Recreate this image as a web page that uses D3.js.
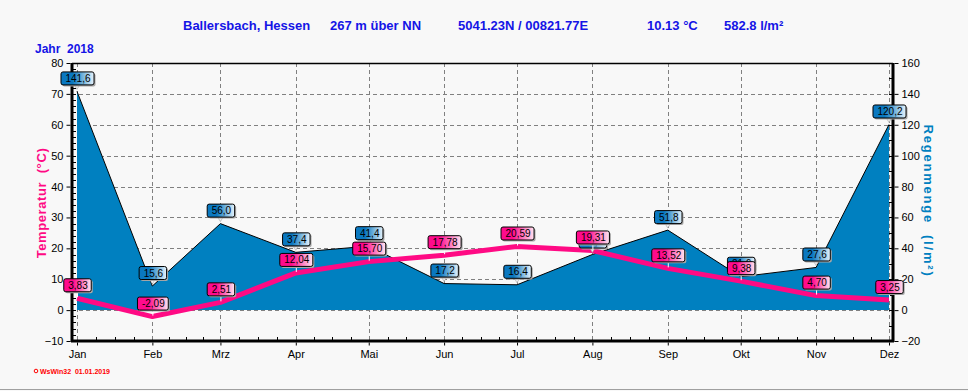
<!DOCTYPE html>
<html><head><meta charset="utf-8">
<script src="https://cdn.jsdelivr.net/npm/d3@7"></script>
<style>
html,body{margin:0;padding:0;background:#f8f8f8;}
svg{display:block;font-family:Arial,"Liberation Sans",sans-serif;}
</style></head>
<body>
<svg id="c" width="968" height="391"></svg>
<script>
const months = ["Jan","Feb","Mrz","Apr","Mai","Jun","Jul","Aug","Sep","Okt","Nov","Dez"];
const temperature = [3.83,-2.09,2.51,12.04,15.70,17.78,20.59,19.31,13.52,9.38,4.70,3.25];
const precipitation = [141.6,15.6,56.0,37.4,41.4,17.2,16.4,36.0,51.8,21.6,27.6,120.2];
const tempTicks = [-10,0,10,20,30,40,50,60,70,80];
const rainTicks = [-20,0,20,40,60,80,100,120,140,160];
const titleParts = ["Ballersbach, Hessen","267 m über NN","5041.23N / 00821.77E","10.13 °C","582.8 l/m²"];
const yearLabel = "Jahr  2018";
const footer = "WsWin32  01.01.2019";

const svg = d3.select("#c");
const L = 72, R = 893, T = 63, B = 341;
const dates = months.map((m,i)=>new Date(2018,i,1));
const x = d3.scaleTime().domain([dates[0], dates[11]]).range([77, 889]);
const yT = d3.scaleLinear().domain([-10,80]).range([B,T]);
const yP = d3.scaleLinear().domain([-20,160]).range([B,T]);

const defs = svg.append("defs");
function grad(id, c1, c2){
  const g = defs.append("linearGradient").attr("id",id).attr("x1","0").attr("x2","1").attr("y1","0").attr("y2","0");
  g.append("stop").attr("offset","0").attr("stop-color",c1);
  g.append("stop").attr("offset","0.35").attr("stop-color",c1);
  g.append("stop").attr("offset","1").attr("stop-color",c2);
}
grad("gb","#0a78c0","#e6f3fc");
grad("gp","#ff0a8c","#ffe6f2");

svg.append("line").attr("x1",0).attr("x2",968).attr("y1",389.5).attr("y2",389.5).attr("stroke","#a0a0a0").attr("stroke-width",1);

// title
const titleX = [183,330,458,647,724];
titleParts.forEach((t,i)=>{
  svg.append("text").attr("x",titleX[i]).attr("y",30).attr("fill","#1414e6")
    .attr("font-size","13px").attr("font-weight","bold").text(t);
});
svg.append("text").attr("x",35).attr("y",53).attr("fill","#1414e6").attr("font-size","12px")
  .attr("font-weight","bold").style("white-space","pre").text(yearLabel);

// gridlines
const grid = svg.append("g").attr("stroke","#808080").attr("stroke-width",1).attr("stroke-dasharray","4,3");
tempTicks.filter(v=>v>-10 && v<80).forEach(v=>{
  grid.append("line").attr("x1",L).attr("x2",R).attr("y1",Math.round(yT(v))+0.5).attr("y2",Math.round(yT(v))+0.5);
});
dates.forEach(d=>{
  grid.append("line").attr("x1",Math.round(x(d))+0.5).attr("x2",Math.round(x(d))+0.5).attr("y1",T).attr("y2",B);
});

// precipitation area
const area = d3.area().x((d,i)=>x(dates[i])).y0(yP(0)).y1(d=>yP(d));
svg.append("path").datum(precipitation).attr("d",area).attr("fill","#0080c0");
svg.append("path").datum(precipitation).attr("d",d3.line().x((d,i)=>x(dates[i])).y(d=>yP(d)))
  .attr("fill","none").attr("stroke","#000").attr("stroke-width",1);

// temperature line
svg.append("path").datum(temperature)
  .attr("d",d3.line().x((d,i)=>x(dates[i])).y(d=>yT(d)))
  .attr("fill","none").attr("stroke","#ff0a84").attr("stroke-width",5).attr("stroke-linejoin","round");

// frame / axes
svg.append("line").attr("x1",L).attr("x2",R).attr("y1",T+0.5).attr("y2",T+0.5).attr("stroke","#000").attr("stroke-width",1.5);
svg.append("line").attr("x1",L-1).attr("x2",R+1).attr("y1",B).attr("y2",B).attr("stroke","#000").attr("stroke-width",3);
svg.append("line").attr("x1",L).attr("x2",L).attr("y1",T).attr("y2",B+1).attr("stroke","#000").attr("stroke-width",3);
svg.append("line").attr("x1",R).attr("x2",R).attr("y1",T).attr("y2",B+1).attr("stroke","#000").attr("stroke-width",3);

// left axis
const axL = svg.append("g").attr("transform",`translate(${L-1.5},0)`)
  .call(d3.axisLeft(yT).tickValues(tempTicks).tickSize(4).tickPadding(3).tickFormat(d3.format("d")));
axL.select(".domain").remove();
axL.selectAll("text").attr("font-size","11px").attr("fill","#000").attr("font-family","Arial,'Liberation Sans',sans-serif");
d3.range(-10,80,2).forEach(v=>{
  svg.append("line").attr("x1",L).attr("x2",L+4).attr("y1",Math.round(yT(v))+0.5).attr("y2",Math.round(yT(v))+0.5).attr("stroke","#000");
});

// right axis
const axR = svg.append("g").attr("transform",`translate(${R+1.5},0)`)
  .call(d3.axisRight(yP).tickValues(rainTicks).tickSize(4).tickPadding(3).tickFormat(d3.format("d")));
axR.select(".domain").remove();
axR.selectAll("text").attr("font-size","11px").attr("fill","#000").attr("font-family","Arial,'Liberation Sans',sans-serif");
d3.range(-20,160,10).forEach(v=>{
  svg.append("line").attr("x1",R-4).attr("x2",R).attr("y1",Math.round(yP(v))+0.5).attr("y2",Math.round(yP(v))+0.5).attr("stroke","#000");
});

// bottom axis
const axB = svg.append("g").attr("transform",`translate(0,${B+1.5})`)
  .call(d3.axisBottom(x).tickValues(dates).tickSize(3).tickPadding(5).tickFormat((d,i)=>months[i]));
axB.select(".domain").remove();
axB.selectAll("text").attr("font-size","11px").attr("fill","#000").attr("font-family","Arial,'Liberation Sans',sans-serif");
for(let i=0;i<11;i++){
  const a = x(dates[i]), b = x(dates[i+1]);
  for(let k=1;k<4;k++){
    const xx = Math.round(a+(b-a)*k/4)+0.5;
    svg.append("line").attr("x1",xx).attr("x2",xx).attr("y1",B-4).attr("y2",B).attr("stroke","#000");
  }
}

// axis titles
svg.append("text").attr("transform","translate(46,203) rotate(-90)").attr("text-anchor","middle")
  .attr("fill","#ff0a84").attr("font-size","13px").attr("font-weight","bold").attr("letter-spacing","0.6px")
  .style("white-space","pre").text("Temperatur  (°C)");
svg.append("text").attr("transform","translate(924,201) rotate(90)").attr("text-anchor","middle")
  .attr("fill","#0080c0").attr("font-size","13px").attr("font-weight","bold").attr("letter-spacing","1.8px")
  .style("white-space","pre").text("Regenmenge  (l/m²)");

// value labels
function fmt(v,dec){ return v.toFixed(dec).replace(".",","); }
function label(cx, py, txt, fillId, pointer){
  const g = svg.append("g");
  const t = g.append("text").attr("font-size","10px").attr("fill","#000").attr("text-anchor","middle").text(txt);
  const w = t.node().getComputedTextLength() + 8;
  const h = 13;
  const by = py - 7 - h;
  const bx = cx - w/2;
  if(pointer==="tri"){
    g.insert("path","text").attr("d",`M${cx-3},${by+h} L${cx+3},${by+h} L${cx},${by+h+5} Z`).attr("fill","#f0f0f0").attr("stroke","#999").attr("stroke-width",0.5);
  } else {
    g.insert("line","text").attr("x1",cx+0.5).attr("x2",cx+0.5).attr("y1",by+h).attr("y2",py-1).attr("stroke","#fff").attr("stroke-width",1);
  }
  g.insert("rect","text").attr("x",bx+2).attr("y",by+2).attr("width",w).attr("height",h).attr("rx",2).attr("fill","#a8a8a8");
  g.insert("rect","text").attr("x",bx+0.5).attr("y",by+0.5).attr("width",w).attr("height",h).attr("rx",2)
    .attr("fill",`url(#${fillId})`).attr("stroke","#000").attr("stroke-width",1);
  t.attr("x",cx+1).attr("y",by+10.5);
}
precipitation.forEach((v,i)=>label(x(dates[i]), yP(v), fmt(v,1), "gb", "tri"));
temperature.forEach((v,i)=>label(x(dates[i]), yT(v), fmt(v,2), "gp", "stem"));

// footer
svg.append("circle").attr("cx",36).attr("cy",371).attr("r",1.8).attr("fill","none").attr("stroke","#ff0000").attr("stroke-width",1);
svg.append("text").attr("x",40).attr("y",374).attr("fill","#ff0000").attr("font-size","7px").attr("font-weight","bold")
  .style("white-space","pre").text(footer);
</script>
</body></html>
